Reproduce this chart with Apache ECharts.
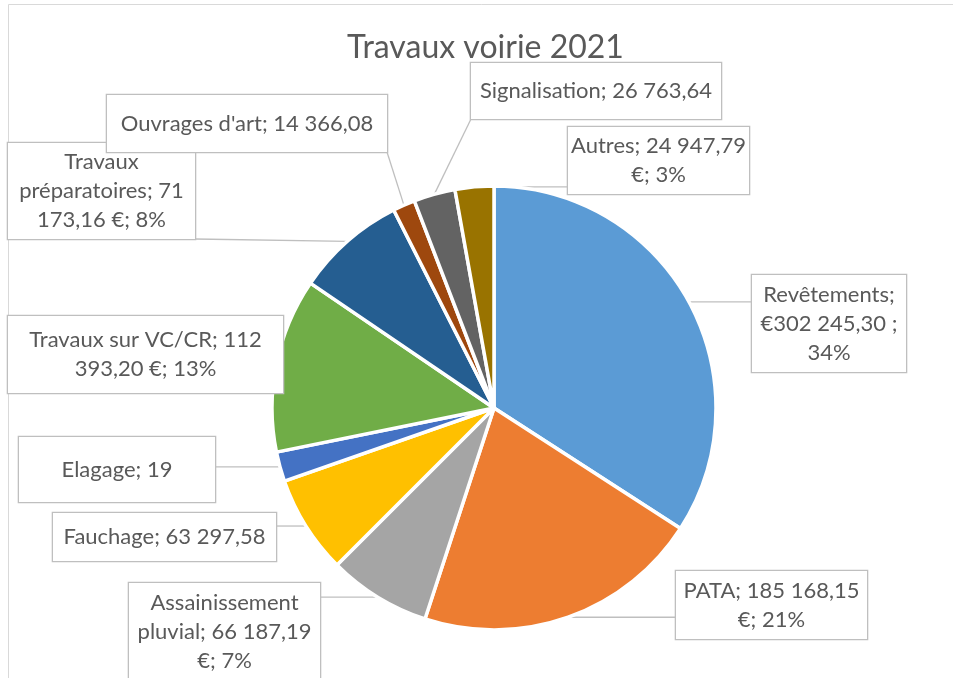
<!DOCTYPE html>
<html>
<head>
  <meta charset="UTF-8">
  <title>Travaux voirie 2021</title>
  <script src="https://cdn.jsdelivr.net/npm/echarts@6/dist/echarts.min.js"></script>
  <style>
    html, body { margin: 0; padding: 0; background: #ffffff; }
    #chart { width: 953px; height: 678px; }
  </style>
</head>
<body>
<div id="chart"></div>
<script>
// postes de depense (ordre Excel, sens horaire depuis midi)
var categories = ['Revêtements', 'PATA', 'Assainissement pluvial', 'Fauchage', 'Elagage',
  'Travaux sur VC/CR', 'Travaux préparatoires', "Ouvrages d'art", 'Signalisation', 'Autres'];
var values = [302245.30, 185168.15, 66187.19, 63297.58, 19150.00,
  112393.20, 71173.16, 14366.08, 26763.64, 24947.79];
var labelTexts = [
  'Revêtements;\n€302 245,30 ;\n34%',
  'PATA; 185 168,15\n€; 21%',
  'Assainissement\npluvial; 66 187,19\n€; 7%',
  'Fauchage; 63 297,58',
  'Elagage; 19',
  'Travaux sur VC/CR; 112\n393,20 €; 13%',
  'Travaux\npréparatoires; 71\n173,16 €; 8%',
  "Ouvrages d'art; 14 366,08",
  'Signalisation; 26 763,64',
  'Autres; 24 947,79\n€; 3%'
];
var colors = ['#5B9BD5', '#ED7D31', '#A5A5A5', '#FFC000', '#4472C4',
  '#70AD47', '#255E91', '#9E480E', '#636363', '#997300'];

// boites des etiquettes : centre x, centre y, largeur, hauteur
var boxes = [
  [829, 323.5, 154, 97],
  [771.5, 605, 191, 68],
  [224.5, 631.5, 191, 97],
  [164.5, 537, 223, 48],
  [117, 469.5, 196, 65],
  [145.5, 354.5, 275, 77],
  [101.5, 191, 187, 96],
  [247, 123.5, 280, 57],
  [596, 91, 250, 56],
  [658.5, 160.5, 181, 67]
];
var LINE_H = 29;

var data = [];
for (var i = 0; i < categories.length; i++) {
  var nLines = labelTexts[i].split('\n').length;
  var padV = (boxes[i][3] - nLines * LINE_H) / 2;
  data.push({
    name: categories[i],
    value: values[i],
    itemStyle: { color: colors[i] },
    label: { width: boxes[i][2], padding: [padV, 0, padV, 0] }
  });
}

function nearestOnBox(p, b) {
  var x0 = b[0] - b[2] / 2, x1 = b[0] + b[2] / 2;
  var y0 = b[1] - b[3] / 2, y1 = b[1] + b[3] / 2;
  var x = Math.min(Math.max(p[0], x0), x1);
  var y = Math.min(Math.max(p[1], y0), y1);
  return [x, y];
}

var myChart = echarts.init(document.getElementById('chart'));
var option = {
  backgroundColor: '#ffffff',
  animation: false,
  title: {
    text: 'Travaux voirie 2021',
    left: 342,
    top: 27,
    textStyle: { color: '#595959', fontSize: 32, fontWeight: 'normal', fontFamily: 'Lato' }
  },
  graphic: [{
    type: 'rect',
    shape: { x: 8.5, y: 4.5, width: 1000, height: 1000 },
    style: { fill: 'none', stroke: '#D9D9D9', lineWidth: 1 },
    z: -10
  }],
  series: [{
    type: 'pie',
    center: [494, 408],
    radius: 222,
    startAngle: 90,
    clockwise: true,
    avoidLabelOverlap: false,
    itemStyle: { borderColor: '#ffffff', borderWidth: 3.5 },
    label: {
      show: true,
      position: 'outside',
      formatter: function (p) { return labelTexts[p.dataIndex]; },
      color: '#595959',
      fontFamily: 'Lato',
      fontSize: 22,
      lineHeight: LINE_H,
      align: 'center',
      backgroundColor: '#ffffff',
      borderColor: '#BFBFBF',
      borderWidth: 1.3
    },
    labelLine: {
      show: true,
      lineStyle: { color: '#BFBFBF', width: 1.3 }
    },
    labelLayout: function (params) {
      var b = boxes[params.dataIndex];
      var res = { x: b[0], y: b[1], align: 'center', verticalAlign: 'middle' };
      if (params.labelLinePoints) {
        var p0 = params.labelLinePoints[0];
        var p1 = nearestOnBox(p0, b);
        res.labelLinePoints = [p0, p1, p1];
      }
      return res;
    },
    data: data
  }]
};
myChart.setOption(option);
</script>
</body>
</html>
